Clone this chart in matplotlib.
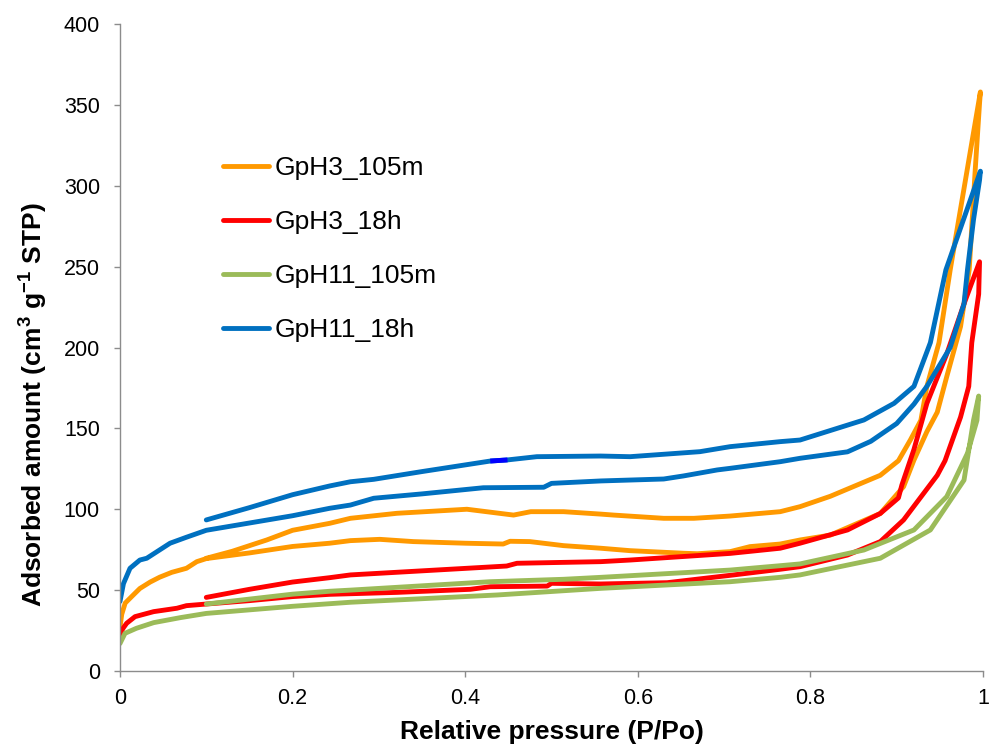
import matplotlib
matplotlib.use("Agg")
import matplotlib.pyplot as plt

plt.rcParams['font.family'] = ['Liberation Sans', 'DejaVu Sans']
plt.rcParams['mathtext.fontset'] = 'custom'
plt.rcParams['mathtext.rm'] = 'Liberation Sans'
plt.rcParams['mathtext.bf'] = 'Liberation Sans:bold'

# ---------------- data ----------------
series_names = ['GpH3_105m', 'GpH3_18h', 'GpH11_105m', 'GpH11_18h']
series_colors = ['#FF9900', '#FF0000', '#9BBB59', '#0070C0']

# GpH3_105m
gph3_105m_ads_p = [0.0, 0.002, 0.006, 0.0135, 0.023, 0.035, 0.046, 0.06, 0.077, 0.089, 0.1,
                   0.15, 0.2, 0.243, 0.267, 0.301, 0.34, 0.40, 0.444, 0.452, 0.475, 0.514,
                   0.557, 0.591, 0.653, 0.669, 0.707, 0.73, 0.765, 0.788, 0.823, 0.881,
                   0.908, 0.92, 0.935, 0.947, 0.958, 0.974, 0.984, 0.991, 0.996, 0.997]
gph3_105m_ads_v = [27, 35, 42, 46, 51, 55, 58, 61, 63.5, 67.6, 69.5,
                   73, 77, 79, 80.6, 81.4, 80, 79, 78.5, 80.2, 80, 77.5,
                   75.9, 74.4, 72.8, 72.5, 73.8, 76.9, 78.5, 81, 84, 97.4,
                   114, 130.4, 148, 160, 182, 213, 248, 310, 351, 358]
gph3_105m_des_p = [0.997, 0.962, 0.949, 0.935, 0.928, 0.916, 0.902, 0.881, 0.823,
                   0.788, 0.765, 0.707, 0.665, 0.63, 0.572, 0.557, 0.514, 0.476, 0.456,
                   0.402, 0.321, 0.267, 0.243, 0.2, 0.17, 0.13, 0.1]
gph3_105m_des_v = [358, 248, 203, 176, 155, 143, 130, 121, 108,
                   101.6, 98.5, 95.8, 94.4, 94.4, 96.4, 97, 98.5, 98.5, 96.4,
                   100, 97.5, 94.4, 91.3, 87, 81, 74, 69.7]

# GpH3_18h
gph3_18h_ads_p = [0.0, 0.003, 0.0077, 0.0174, 0.039, 0.066, 0.077, 0.1, 0.15, 0.2, 0.243,
                  0.321, 0.406, 0.429, 0.495, 0.5, 0.557, 0.634, 0.711, 0.765, 0.788,
                  0.843, 0.881, 0.908, 0.947, 0.956, 0.974, 0.9835, 0.987, 0.995, 0.996]
gph3_18h_ads_v = [21, 26, 29.5, 33.6, 36.7, 38.8, 40.4, 41.4, 43.5, 46, 47.4,
                  48.6, 50.5, 52.1, 52.5, 54.2, 53.8, 54.6, 59.4, 62.9, 64.5,
                  71.7, 80, 93.4, 121, 130, 157, 176, 203, 233, 253]
gph3_18h_des_p = [0.996, 0.978, 0.958, 0.935, 0.92, 0.906, 0.902, 0.881, 0.843, 0.788,
                  0.765, 0.707, 0.591, 0.557, 0.46, 0.448, 0.267, 0.243, 0.2, 0.15, 0.1]
gph3_18h_des_v = [253, 227, 196, 165.5, 137, 115, 107, 97.4, 87.2, 79,
                  75.9, 72.7, 68.6, 67.6, 66.6, 64.9, 59.4, 57.7, 55, 50.5, 45.5]

# GpH11_105m
gph11_105m_ads_p = [0.0, 0.0058, 0.019, 0.039, 0.07, 0.1, 0.2, 0.267, 0.437, 0.557, 0.707,
                    0.765, 0.788, 0.881, 0.939, 0.978, 0.989, 0.995]
gph11_105m_ads_v = [17, 23.3, 26.4, 29.9, 33, 35.6, 40, 42.5, 47, 51.1, 55.2,
                    57.9, 59.4, 69.7, 87.2, 118, 155, 170]
gph11_105m_des_p = [0.995, 0.993, 0.982, 0.958, 0.92, 0.862, 0.788, 0.765, 0.707, 0.557,
                    0.514, 0.429, 0.267, 0.243, 0.2, 0.1]
gph11_105m_des_v = [170, 155, 134.6, 107.8, 87.2, 74.8, 66.2, 65.1, 62.4, 57.9,
                    56.7, 55.2, 50, 49.3, 47.5, 41.4]

# GpH11_18h
gph11_18h_ads_p = [0.0, 0.004, 0.0116, 0.023, 0.031, 0.058, 0.077, 0.1, 0.15, 0.2, 0.243,
                   0.267, 0.294, 0.35, 0.421, 0.491, 0.5, 0.557, 0.63, 0.653, 0.692, 0.707,
                   0.765, 0.788, 0.843, 0.87, 0.9, 0.92, 0.935, 0.962, 0.978, 0.982,
                   0.989, 0.996, 0.997]
gph11_18h_ads_v = [43, 54, 63.5, 68.6, 69.7, 79, 82.7, 87, 91.5, 96, 100.6,
                   102.6, 106.8, 109.5, 113.3, 113.6, 116, 117.5, 118.7, 120.6, 124.3, 125.3,
                   129.4, 131.5, 135.5, 142, 153, 165, 176, 200, 227, 248,
                   279, 303.5, 309]
gph11_18h_des_p = [0.997, 0.957, 0.939, 0.92, 0.897, 0.862, 0.788, 0.765, 0.707,
                   0.672, 0.591, 0.557, 0.483, 0.449, 0.429, 0.35, 0.294, 0.267, 0.243,
                   0.2, 0.15, 0.1]
gph11_18h_des_v = [309, 248, 203, 176, 165.5, 155.2, 142.8, 141.8, 138.7,
                   135.6, 132.5, 132.9, 132.5, 130.5, 129.8, 123.3, 118.5, 117, 114.4,
                   109, 101, 93.4]

x_ticks = [0, 0.2, 0.4, 0.6, 0.8, 1]
x_tick_labels = ['0', '0.2', '0.4', '0.6', '0.8', '1']
y_ticks = [0, 50, 100, 150, 200, 250, 300, 350, 400]

series = [
    (gph3_105m_ads_p + gph3_105m_des_p, gph3_105m_ads_v + gph3_105m_des_v),
    (gph3_18h_ads_p + gph3_18h_des_p, gph3_18h_ads_v + gph3_18h_des_v),
    (gph11_105m_ads_p + gph11_105m_des_p, gph11_105m_ads_v + gph11_105m_des_v),
    (gph11_18h_ads_p + gph11_18h_des_p, gph11_18h_ads_v + gph11_18h_des_v),
]

# ---------------- figure ----------------
fig = plt.figure(figsize=(9.91, 7.47), dpi=100)
ax = fig.add_axes([120 / 991, 1 - 671 / 747, 863 / 991, 647 / 747])

lw = 3.5
for (px, py), name, col in zip(series, series_names, series_colors):
    ax.plot(px, py, color=col, lw=lw, label=name,
            solid_joinstyle='round', solid_capstyle='round')

# small pure-blue segment on the GpH11_18h desorption branch
i0 = gph11_18h_des_p.index(0.449)
ax.plot(gph11_18h_des_p[i0:i0 + 2], gph11_18h_des_v[i0:i0 + 2], color='#0000FF',
        lw=lw, solid_capstyle='butt')

ax.set_xlim(0, 1)
ax.set_ylim(0, 400)
ax.set_xticks(x_ticks)
ax.set_xticklabels(x_tick_labels)
ax.set_yticks(y_ticks)

spine_col = '#8c8c8c'
for s in ['top', 'right']:
    ax.spines[s].set_visible(False)
for s in ['left', 'bottom']:
    ax.spines[s].set_color(spine_col)
    ax.spines[s].set_linewidth(1.0)
ax.tick_params(axis='both', direction='out', color=spine_col, width=1.0,
               labelsize=15.5, labelcolor='black')
ax.tick_params(axis='y', length=4, pad=10.5)
ax.tick_params(axis='x', length=4.3, pad=8)

fig.text(552 / 991, 1 - 732 / 747, 'Relative pressure (P/Po)', fontsize=19,
         fontweight='bold', ha='center', va='center')
fig.text(33 / 991, 1 - 405 / 747,
         r'Adsorbed amount (cm$^{\mathbf{3}}$ g$^{\mathbf{-1}}$ STP)', fontsize=19,
         fontweight='bold', ha='center', va='center', rotation=90)

leg = ax.legend(loc='upper left', bbox_to_anchor=((223 - 120) / 863, (671 - 156) / 647),
                frameon=False, fontsize=19, handlelength=1.75, handletextpad=0.2,
                labelspacing=1.14, borderpad=0, borderaxespad=0)

fig.savefig('out.png', dpi=100)
